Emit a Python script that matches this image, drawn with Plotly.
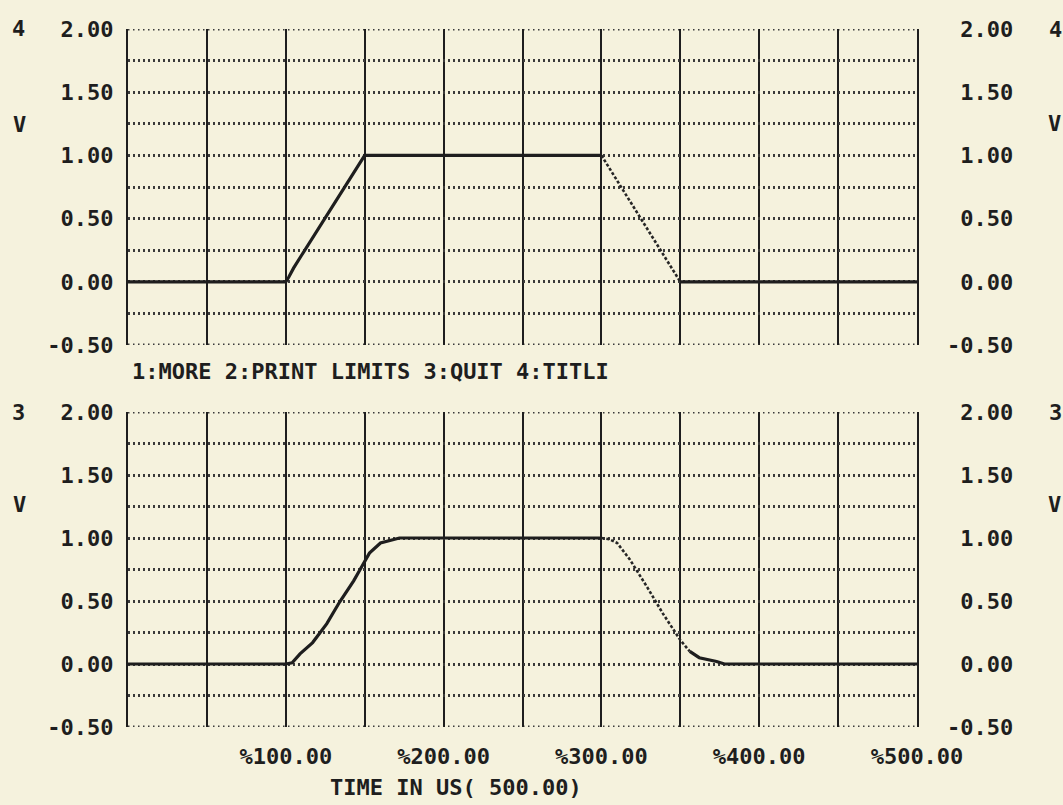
import plotly.graph_objects as go

# ---------------- data ----------------
# channel 4 (top panel)
t_top = [0, 100, 102, 105, 110, 120, 130, 140, 145, 150, 300, 350, 500]
v_top = [0.0, 0.0, 0.04, 0.11, 0.21, 0.41, 0.61, 0.81, 0.91, 1.0, 1.0, 0.0, 0.0]
top_fall_start = 10   # index where falling edge starts
top_fall_end = 11     # index where falling edge ends

# channel 3 (bottom panel)
t_bot = [0, 100, 104, 109, 117, 126, 134, 143, 148, 153, 160, 172,
         300, 305, 310, 318, 329, 339, 350, 356, 362, 373, 378, 500]
v_bot = [0.0, 0.0, 0.01, 0.08, 0.17, 0.32, 0.49, 0.66, 0.77, 0.88, 0.96, 1.0,
         1.0, 0.99, 0.96, 0.83, 0.61, 0.40, 0.19, 0.10, 0.05, 0.02, 0.0, 0.0]
bot_fall_start = 12
bot_fall_end = 19

y_tickvals = [-0.5, -0.25, 0.0, 0.25, 0.5, 0.75, 1.0, 1.25, 1.5, 1.75, 2.0]
y_ticktext = ["-0.50", "", "0.00", "", "0.50", "", "1.00", "", "1.50", "", "2.00"]
x_tickvals = [0, 50, 100, 150, 200, 250, 300, 350, 400, 450, 500]
x_ticktext = ["", "", "%100.00", "", "%200.00", "", "%300.00", "", "%400.00", "", "%500.00"]

menu_text = "1:MORE 2:PRINT LIMITS 3:QUIT 4:TITLI"
x_title = "TIME IN US( 500.00)"
unit = "V"
top_channel = "4"
bot_channel = "3"

# ---------------- style ----------------
W, H = 1063, 805
BG = "#F5F2DD"
INK = "#1e1e1e"
FONT = dict(family="DejaVu Sans Mono", size=22, color=INK, weight="bold")
XDOM = [128 / W, 917 / W]
TOP_DOM = [1 - 345 / H, 1 - 29 / H]
BOT_DOM = [1 - 727 / H, 1 - 412 / H]
YR = [y_tickvals[0], y_tickvals[-1]]
GRID_DOT = dict(color="#3a3a3a", width=3, dash="1.5px,3.5px")


def px(x):
    return x / W


def py(y):
    return 1 - y / H


fig = go.Figure()


def add_signal(t, v, fs, fe, xa, ya):
    fig.add_trace(go.Scatter(x=t[:fs + 1], y=v[:fs + 1], mode="lines",
                             line=dict(color=INK, width=3.2), xaxis=xa, yaxis=ya,
                             showlegend=False, hoverinfo="skip"))
    fig.add_trace(go.Scatter(x=t[fs:fe + 1], y=v[fs:fe + 1], mode="lines",
                             line=dict(color="#262626", width=2.6, dash="3px,2px"),
                             xaxis=xa, yaxis=ya, showlegend=False, hoverinfo="skip"))
    fig.add_trace(go.Scatter(x=t[fe:], y=v[fe:], mode="lines",
                             line=dict(color=INK, width=3.2), xaxis=xa, yaxis=ya,
                             showlegend=False, hoverinfo="skip"))


add_signal(t_top, v_top, top_fall_start, top_fall_end, "x", "y")
add_signal(t_bot, v_bot, bot_fall_start, bot_fall_end, "x2", "y2")

xcommon = dict(range=[x_tickvals[0], x_tickvals[-1]], tickvals=x_tickvals, showgrid=True,
               gridcolor=INK, gridwidth=2, zeroline=False, showline=False, ticks="",
               domain=XDOM, tickfont=FONT, automargin=False)
ycommon = dict(range=YR, tickvals=y_tickvals, showgrid=True,
               gridcolor=GRID_DOT["color"], gridwidth=GRID_DOT["width"],
               griddash=GRID_DOT["dash"],
               zeroline=False, showline=True, linecolor=INK, linewidth=2,
               mirror=True, ticks="", tickfont=FONT, ticklabelstandoff=8,
               automargin=False)
yright = dict(range=YR, tickvals=y_tickvals,
              ticktext=[("\u00a0" + s) if (s and not s.startswith("-")) else s for s in y_ticktext],
              showgrid=False, zeroline=False, showline=False, ticks="",
              side="right", tickfont=FONT, ticklabelstandoff=29, automargin=False)

fig.update_layout(
    width=W, height=H, margin=dict(l=0, r=0, t=0, b=0, pad=0, autoexpand=False),
    paper_bgcolor=BG, plot_bgcolor=BG, font=FONT, showlegend=False,
    xaxis=dict(**xcommon, anchor="y", showticklabels=False),
    yaxis=dict(**ycommon, domain=TOP_DOM, anchor="x", ticktext=y_ticktext),
    yaxis3=dict(**yright, overlaying="y", anchor="x"),
    xaxis2=dict(**xcommon, anchor="y2", ticktext=x_ticktext, ticklabelstandoff=14),
    yaxis2=dict(**ycommon, domain=BOT_DOM, anchor="x2", ticktext=y_ticktext),
    yaxis4=dict(**yright, overlaying="y2", anchor="x2"),
)

fig.add_trace(go.Scatter(x=[None], y=[None], xaxis="x", yaxis="y3", showlegend=False))
fig.add_trace(go.Scatter(x=[None], y=[None], xaxis="x2", yaxis="y4", showlegend=False))

# dotted border lines at the top and bottom of each grid (plotly omits edge gridlines)
for yref in ("y", "y2"):
    for yv in (YR[0], YR[1]):
        fig.add_shape(type="line", xref="x" if yref == "y" else "x2", yref=yref,
                      x0=x_tickvals[0], x1=x_tickvals[-1], y0=yv, y1=yv,
                      line=GRID_DOT, layer="below")


def note(text, x, y, xanchor="center"):
    fig.add_annotation(text=text, x=px(x), y=py(y), xref="paper", yref="paper",
                       xanchor=xanchor, yanchor="middle", showarrow=False, font=FONT)


note(top_channel, 18, 28)
note(unit, 19, 125)
note(bot_channel, 18, 412)
note(unit, 19, 505)
note(top_channel, 1047, 30, "left")
note(unit, 1054, 124)
note(bot_channel, 1047, 412, "left")
note(unit, 1054, 504)
note(menu_text, 130, 371, "left")
note(x_title, 328, 787, "left")

fig.write_html("out.html", config={"displayModeBar": False},
               post_script="document.body.style.margin='0';document.body.style.overflow='hidden';")
